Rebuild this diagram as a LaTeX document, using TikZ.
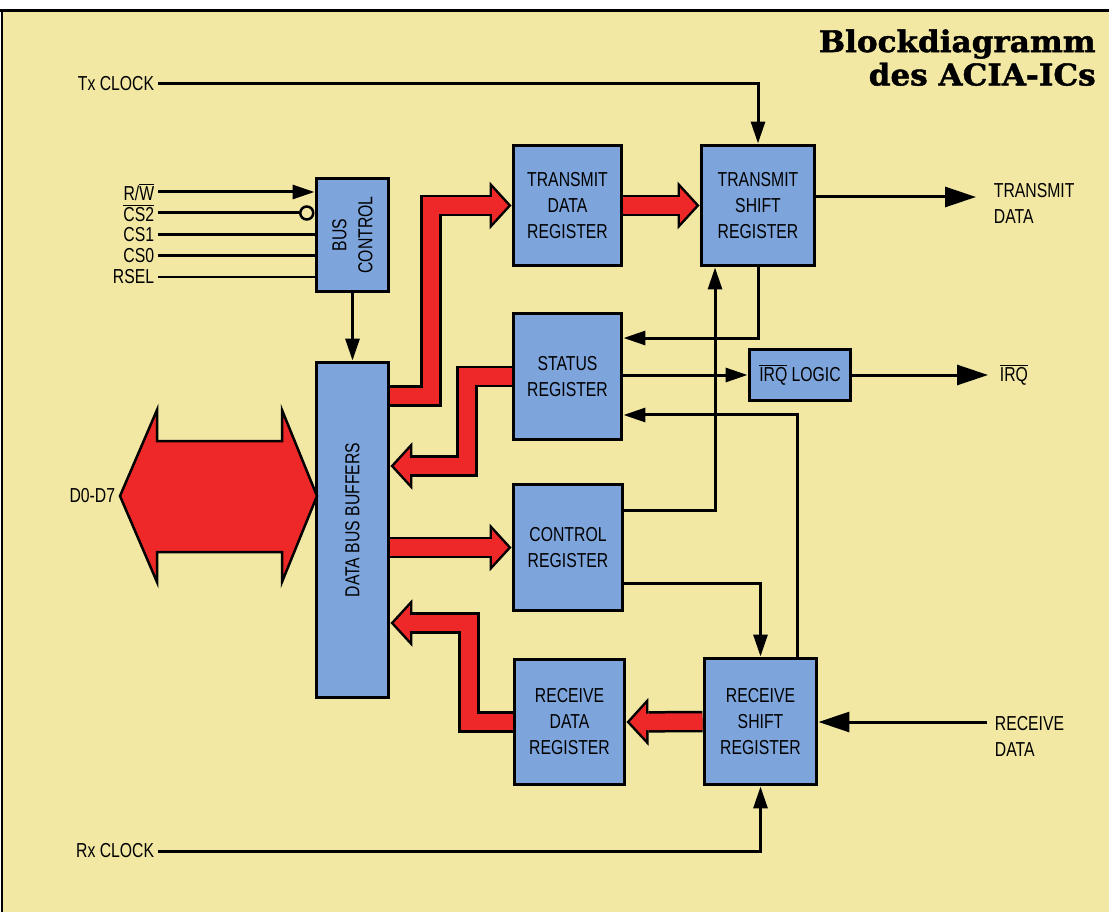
\documentclass[tikz,border=0pt]{standalone}
\usepackage{fontspec}
\setmainfont{Liberation Sans}[FakeStretch=0.78]
\newfontfamily\titlefont{DejaVu Serif}[FakeStretch=1.04,BoldFeatures={FakeBold=1.5}]
\usetikzlibrary{arrows.meta,calc,positioning}
\definecolor{paper}{RGB}{242,232,164}
\definecolor{regblue}{RGB}{125,165,220}
\definecolor{busred}{RGB}{238,40,40}
\newcommand{\boxfont}{\fontsize{11.5}{14.8}\selectfont}
\newcommand{\ovl}[1]{\(\overline{\hbox{#1}}\)}
\tikzset{
  regbox/.style={rectangle,draw=black,line width=0.06cm,fill=regblue,
    align=center,inner sep=0pt,font=\boxfont},
  sig/.style={font=\boxfont,inner sep=2pt,align=left},
  link/.style={line width=0.06cm},
  arrowlink/.style={link,-{Triangle[length=0.44cm,width=0.28cm]}},
  bigarrow/.style={link,-{Triangle[length=0.62cm,width=0.4cm]}},
  invcirc/.style={circle,draw=black,line width=0.05cm,fill=paper,
    minimum size=0.26cm,inner sep=0pt},
  busback/.style={line width=0.43cm,black,
    -{Triangle[length=0.44cm,width=0.96cm,line width=0pt]}},
  busfront/.style={line width=0.33cm,busred,shorten >=0.068cm,
    -{Triangle[length=0.322cm,width=0.703cm,line width=0pt]}},
}

\begin{document}
\begin{tikzpicture}[x=0.02cm,y=-0.02cm]

  %% -- paper and frame -------------------------------------------------------
  \useasboundingbox (0,0) rectangle (1109,912);
  \fill[white] (0,0) rectangle (1109,912);
  \fill[paper] (2,11) rectangle (1109,912);
  \draw[line width=0.06cm] (0,11) -- (1109,11);
  \draw[line width=0.06cm] (2,11) -- (2,912);

  \node[anchor=north east,align=right,inner sep=0pt,
    font=\titlefont\bfseries\fontsize{17}{19}\selectfont] (title) at (1096,29)
    {Blockdiagramm\\des ACIA-ICs};

  %% -- registers -------------------------------------------------------------
  \node[regbox,minimum width=1.46cm,minimum height=2.28cm] (bc)  at (352.5,235) {};
  \node[rotate=90,align=center,font=\boxfont] at (bc) {BUS\\CONTROL};
  \node[regbox,minimum width=1.46cm,minimum height=6.72cm] (dbb) at (352.5,530) {};
  \node[rotate=90,font=\boxfont] at ([yshift=0.2cm]dbb.center) {DATA BUS BUFFERS};

  \node[regbox,minimum width=2.18cm,minimum height=2.42cm] (tdr) at (567.5,205.5) {TRANSMIT\\DATA\\REGISTER};
  \node[regbox,minimum width=2.28cm,minimum height=2.42cm] (tsr) at (758,205.5)   {TRANSMIT\\SHIFT\\REGISTER};
  \node[regbox,minimum width=2.18cm,minimum height=2.54cm] (sr)  at (567.5,376.5) {STATUS\\REGISTER};
  \node[regbox,minimum width=2.04cm,minimum height=1.04cm] (irq) at (800,375)     {\ovl{IRQ} LOGIC};
  \node[regbox,minimum width=2.20cm,minimum height=2.54cm] (cr)  at (568,547.5)   {CONTROL\\REGISTER};
  \node[regbox,minimum width=2.22cm,minimum height=2.52cm] (rdr) at (569.5,722)   {RECEIVE\\DATA\\REGISTER};
  \node[regbox,minimum width=2.26cm,minimum height=2.54cm] (rsr) at (760.5,721.5) {RECEIVE\\SHIFT\\REGISTER};

  %% -- signal names ----------------------------------------------------------
  \node[sig,anchor=east] (txc)   at (158,84)  {Tx CLOCK};
  \node[sig,anchor=east] (rxc)   at (158,851) {Rx CLOCK};
  \node[sig,anchor=east] (lrw)   at (158,192) {R/\ovl{W}};
  \node[sig,anchor=east] (lcs2)  at (158,213) {\ovl{CS2}};
  \node[sig,anchor=east] (lcs1)  at (158,235) {CS1};
  \node[sig,anchor=east] (lcs0)  at (158,256) {CS0};
  \node[sig,anchor=east] (lrsel) at (158,277) {RSEL};
  \node[sig,anchor=east] (dlab)  at (119,496) {D0-D7};
  \node[sig,anchor=north west] (txdlab) at (990,180) {TRANSMIT\\DATA};
  \node[sig,anchor=north west] (rxdlab) at (991,713) {RECEIVE\\DATA};
  \node[sig,anchor=west] (irqlab) at (996,375) {\ovl{IRQ}};

  %% -- bus control inputs ----------------------------------------------------
  \draw[arrowlink] (lrw.east) -- (lrw.east -| bc.west);
  \node[invcirc,anchor=east] (inv) at (lcs2.east -| bc.west) {};
  \draw[link] (lcs2.east) -- (inv.west);
  \draw[link] (lcs1.east) -- (lcs1.east -| bc.west);
  \draw[link] (lcs0.east) -- (lcs0.east -| bc.west);
  \draw[link] (lrsel.east) -- (lrsel.east -| bc.west);
  \draw[arrowlink] (bc.south) -- (dbb.north);

  %% -- data bus D0-D7 --------------------------------------------------------
  \draw[line width=0.05cm,fill=busred] (120,496) -- (157,410) -- (157,441)
    -- (282,441) -- (282,410) -- (317,496) -- (282,582) -- (282,552)
    -- (157,552) -- (157,582) -- cycle;

  %% -- internal buses --------------------------------------------------------
  \coordinate (b1) at (431,396);
  \coordinate (b3) at (467,466);
  \coordinate (b5) at (469,623);
  \draw[busback]  (dbb.east |- b1) -- (b1) |- (tdr.west);
  \draw[busfront] (dbb.east |- b1) -- (b1) |- (tdr.west);
  \draw[busback]  (tdr.east) -- (tsr.west);
  \draw[busfront] (tdr.east) -- (tsr.west);
  \draw[busback]  (sr.west) -| (b3) -- (dbb.east |- b3);
  \draw[busfront] (sr.west) -| (b3) -- (dbb.east |- b3);
  \draw[busback]  (dbb.east |- cr.west) -- (cr.west);
  \draw[busfront] (dbb.east |- cr.west) -- (cr.west);
  \draw[busback]  (rdr.west) -| (b5) -- (dbb.east |- b5);
  \draw[busfront] (rdr.west) -| (b5) -- (dbb.east |- b5);
  \draw[busback]  (rsr.west) -- (rdr.east);
  \draw[busfront] (rsr.west) -- (rdr.east);

  %% -- control lines ---------------------------------------------------------
  \coordinate (txout)  at (976,197);
  \coordinate (irqout) at (988,375);
  \coordinate (rxin)   at (987,722);
  \draw[arrowlink] (txc.east) -| (tsr.north);
  \draw[bigarrow]  (tsr.east |- txout) -- (txout);
  \draw[arrowlink] (tsr.south) |- ([yshift=0.77cm]sr.east);
  \draw[arrowlink] (sr.east |- irq.west) -- (irq.west);
  \draw[bigarrow]  (irq.east) -- (irqout);
  \draw[arrowlink] ([yshift=0.75cm]cr.east) -| ([xshift=-0.86cm]tsr.south);
  \draw[arrowlink] ([xshift=0.73cm]rsr.north) |- ([yshift=-0.77cm]sr.east);
  \draw[arrowlink] ([yshift=-0.73cm]cr.east) -| (rsr.north);
  \draw[bigarrow]  (rxin) -- (rsr.east |- rxin);
  \draw[arrowlink] (rxc.east) -| (rsr.south);

\end{tikzpicture}
\end{document}
